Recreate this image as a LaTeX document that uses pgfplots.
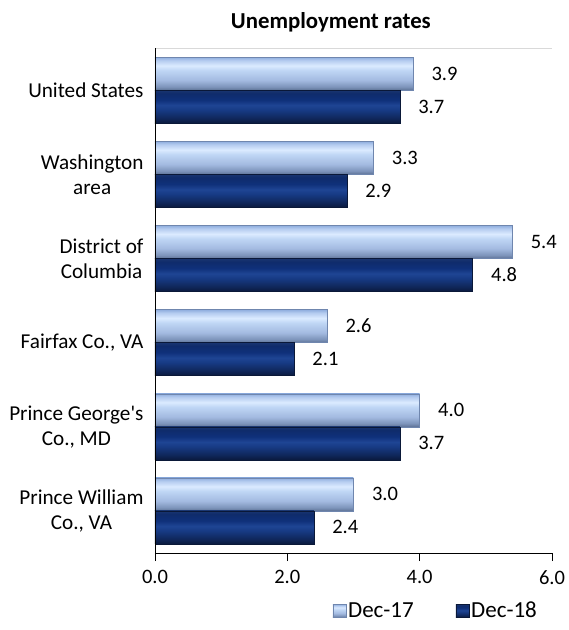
\documentclass[border=0pt]{standalone}
\usepackage{fontspec}
\setmainfont{Carlito}
\usepackage{pgfplots}
\pgfplotsset{compat=1.18}
\definecolor{frame}{HTML}{D9D9D9}
\definecolor{d17edge}{HTML}{6F86AE}
\definecolor{d18edge}{HTML}{0A1838}

% bar fills: light band across the upper part, darker toward the lower edge
\pgfdeclareverticalshading{lightbar}{100bp}{%
  rgb(0bp)=(0.37,0.45,0.59); rgb(25bp)=(0.37,0.45,0.59);
  rgb(30bp)=(0.49,0.58,0.73); rgb(40bp)=(0.64,0.73,0.88);
  rgb(55bp)=(0.75,0.84,0.96); rgb(62bp)=(0.86,0.92,1.0);
  rgb(70bp)=(0.71,0.80,0.94); rgb(75bp)=(0.56,0.68,0.87);
  rgb(100bp)=(0.56,0.68,0.87)}
\pgfdeclareverticalshading{darkbar}{100bp}{%
  rgb(0bp)=(0.04,0.10,0.24); rgb(25bp)=(0.04,0.10,0.24);
  rgb(32bp)=(0.06,0.15,0.35); rgb(45bp)=(0.09,0.23,0.52);
  rgb(52bp)=(0.12,0.27,0.58); rgb(60bp)=(0.06,0.19,0.48);
  rgb(70bp)=(0.06,0.17,0.42); rgb(75bp)=(0.10,0.21,0.44);
  rgb(100bp)=(0.10,0.21,0.44)}

\pgfplotsset{
  dec17/.style={bar shift=16.5pt, draw=d17edge, line width=0.4pt, shading=lightbar},
  dec18/.style={bar shift=-16.5pt, draw=d18edge, line width=0.4pt, shading=darkbar},
}

\begin{document}
\begin{tikzpicture}
  \begin{axis}[
    scale only axis,
    width=397pt, height=505pt,
    xbar, bar width=33pt,
    y dir=reverse,
    xmin=0, xmax=6,
    ymin=-0.5, ymax=5.5,
    xtick={0,2,4,6},
    ytick={0,1,2,3,4,5},
    yticklabels={{United States}, {Washington\\area}, {District of\\Columbia},
      {Fairfax Co., VA}, {Prince George\textquotesingle s\\Co., MD}, {Prince William\\Co., VA}},
    yticklabel style={align=center, font=\fontsize{21.2}{25}\selectfont},
    xticklabel style={font=\fontsize{20.5}{25}\selectfont, yshift=-6pt},
    /pgf/number format/assume math mode=true,
    /pgf/number format/.cd, fixed, fixed zerofill, precision=1, /pgfplots/.cd,
    axis line style={draw=none},
    major tick length=8pt,
    ytick style={draw=none},
    xtick style={black, line width=0.8pt},
    xtick pos=bottom,
    tick align=outside,
    title={\bfseries Unemployment rates},
    title style={at={(axis description cs:0.443,1)}, anchor=south, yshift=6pt,
      font=\fontsize{22.8}{26}\selectfont},
    nodes near coords,
    nodes near coords style={black, anchor=west, xshift=15pt,
      font=\fontsize{20.5}{25}\selectfont,
      /pgf/number format/.cd, fixed, fixed zerofill, precision=1},
    legend columns=2,
    legend image code/.code={\draw[#1] (0pt,-6.5pt) rectangle (13pt,6.5pt);},
    legend style={at={(axis description cs:0.975,0)}, anchor=north east,
      yshift=-45pt, draw=none, font=\fontsize{23}{27}\selectfont,
      /tikz/every even column/.append style={column sep=40pt}},
  ]
    % one plot per bar so that each bar gets its own shading
    \addplot+[dec17] coordinates {(3.9,0)};
    \addplot+[dec18] coordinates {(3.7,0)};
    \addplot+[dec17, forget plot] coordinates {(3.3,1)};
    \addplot+[dec18, forget plot] coordinates {(2.9,1)};
    \addplot+[dec17, forget plot] coordinates {(5.4,2)};
    \addplot+[dec18, forget plot] coordinates {(4.8,2)};
    \addplot+[dec17, forget plot] coordinates {(2.6,3)};
    \addplot+[dec18, forget plot] coordinates {(2.1,3)};
    \addplot+[dec17, forget plot] coordinates {(4.0,4)};
    \addplot+[dec18, forget plot] coordinates {(3.7,4)};
    \addplot+[dec17, forget plot] coordinates {(3.0,5)};
    \addplot+[dec18, forget plot] coordinates {(2.4,5)};
    \legend{Dec-17, Dec-18}
    \draw[frame, line width=0.8pt] (rel axis cs:0,1) -- (rel axis cs:1,1) -- (rel axis cs:1,0);
    \draw[black, line width=0.8pt] (rel axis cs:0,0) -- (rel axis cs:1,0);
    \draw[black, line width=0.8pt] (rel axis cs:0,0) -- (rel axis cs:0,1);
  \end{axis}
  \path[use as bounding box] (-155pt,-77pt) rectangle (413pt,553pt);
\end{tikzpicture}
\end{document}
